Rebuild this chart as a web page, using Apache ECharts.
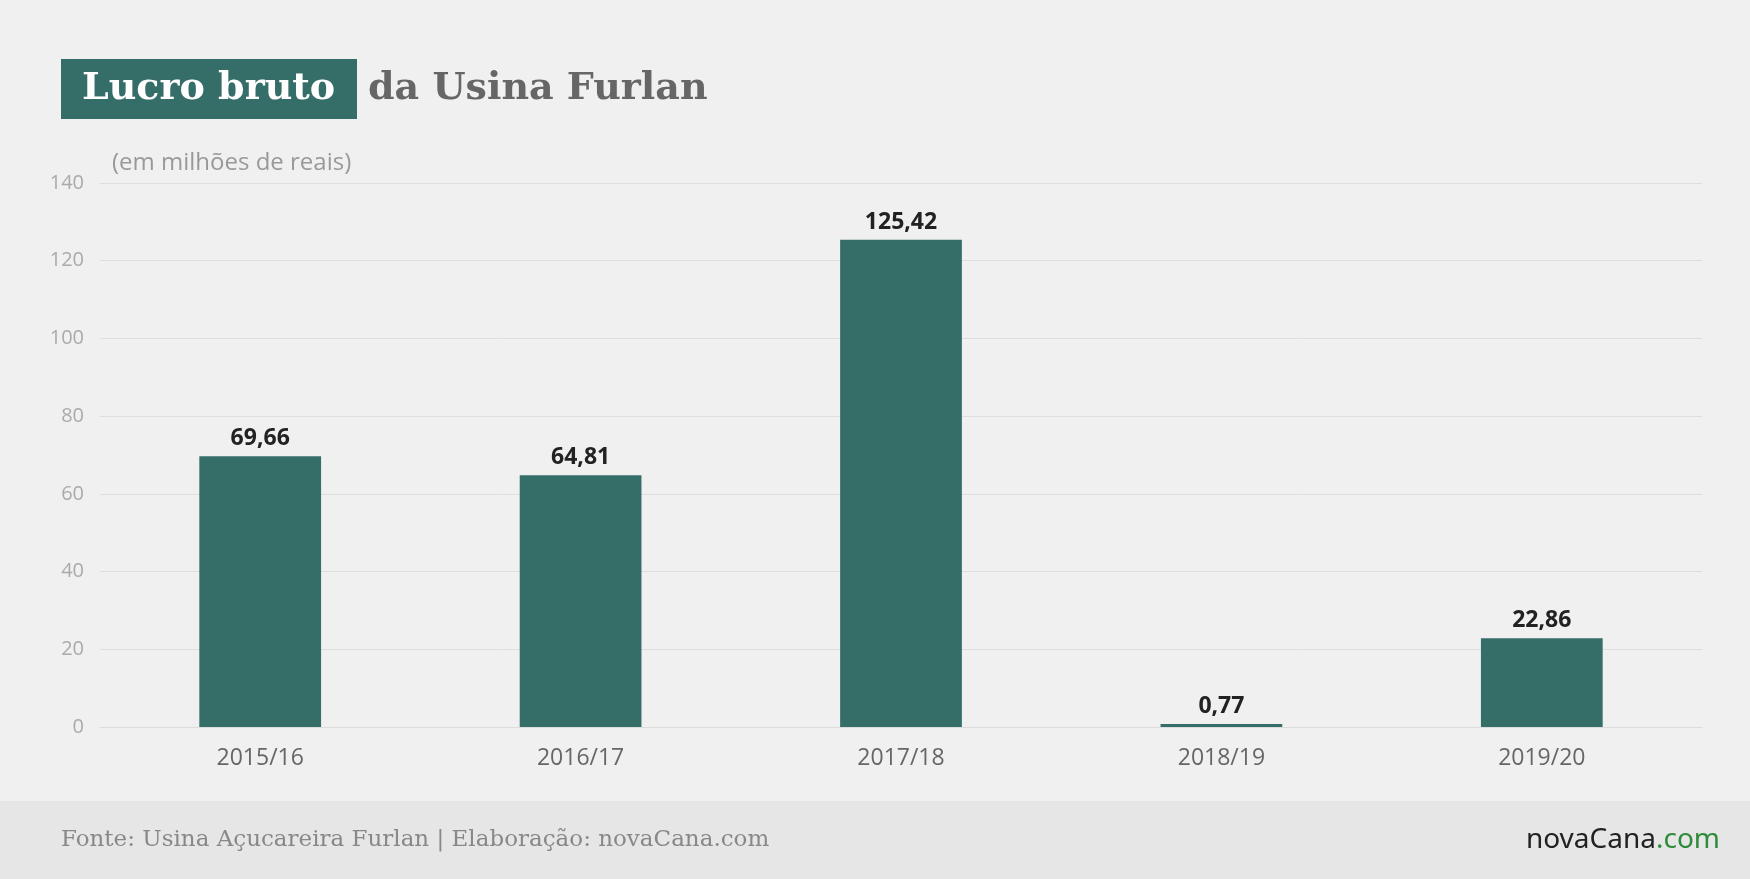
<!DOCTYPE html>
<html lang="pt">
<head>
<meta charset="UTF-8"/>
<title>Lucro bruto da Usina Furlan</title>
<script src="https://cdn.jsdelivr.net/npm/echarts@6/dist/echarts.min.js"></script>
<style>
  html, body { margin: 0; padding: 0; background: #f0f0f0; }
  #main { width: 1750px; height: 879px; }
</style>
</head>
<body>
<div id="main"></div>
<script>
var safras = ['2015/16', '2016/17', '2017/18', '2018/19', '2019/20'];
var lucro = [69.66, 64.81, 125.42, 0.77, 22.86];

var chart = echarts.init(document.getElementById('main'));

var option = {
    backgroundColor: '#f0f0f0',
    grid: { left: 100, right: 48, top: 183, bottom: 152 },
    xAxis: {
        type: 'category',
        data: safras,
        axisLine: { show: true, lineStyle: { color: '#dcdcdc' } },
        axisTick: { show: false },
        axisLabel: { color: '#666', fontSize: 23, fontFamily: 'Open Sans', margin: 20 }
    },
    yAxis: {
        type: 'value',
        min: 0, max: 140, interval: 20,
        axisLine: { show: false },
        axisTick: { show: false },
        splitLine: { lineStyle: { color: '#dedede' } },
        axisLabel: { color: '#aaa', fontSize: 20, fontFamily: 'Open Sans', margin: 16 }
    },
    series: [{
        type: 'bar',
        data: lucro,
        barWidth: '38%',
        itemStyle: { color: '#356e69' },
        label: {
            show: true, position: 'top', distance: 6,
            color: '#222', fontSize: 23, fontWeight: 'bold', fontFamily: 'Open Sans',
            formatter: function (p) { return p.value.toFixed(2).replace('.', ','); }
        }
    }],
    graphic: [
        { type: 'rect', left: 61, top: 59, shape: { width: 296, height: 60 }, style: { fill: '#356e69' } },
        { type: 'text', left: 82, top: 70, style: { text: 'Lucro bruto', fill: '#fff', font: 'bold 38px "DejaVu Serif"' } },
        { type: 'text', left: 368, top: 70, style: { text: 'da Usina Furlan', fill: '#666', font: 'bold 38px "DejaVu Serif"' } },
        { type: 'text', left: 112, top: 151, style: { text: '(em milhões de reais)', fill: '#999', font: '24px "Open Sans"' } },
        { type: 'rect', left: 0, top: 801, shape: { width: 1750, height: 78 }, style: { fill: '#e6e6e6' } },
        { type: 'text', left: 61, top: 829, style: { text: 'Fonte: Usina Açucareira Furlan | Elaboração: novaCana.com', fill: '#888', font: '23px "DejaVu Serif"' } },
        { type: 'text', right: 30, top: 826, style: { rich: { a: { fill: '#222', font: '28px "Noto Sans"' }, b: { fill: '#2e8b3a', font: '28px "Noto Sans"' } }, text: '{a|novaCana}{b|.com}' } }
    ]
};

chart.setOption(option);
</script>
</body>
</html>
